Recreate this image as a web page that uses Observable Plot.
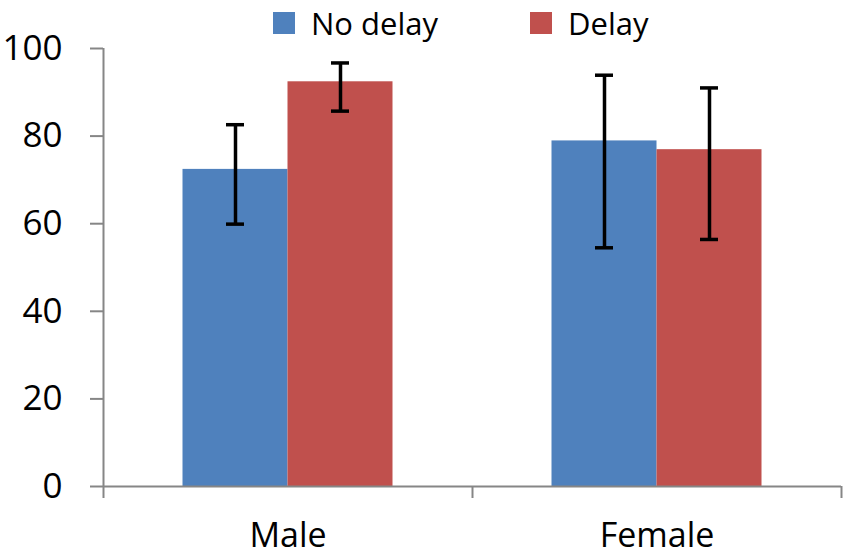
<!DOCTYPE html>
<html>
<head>
<meta charset="utf-8">
<script src="https://cdn.jsdelivr.net/npm/d3@7"></script>
<script src="https://cdn.jsdelivr.net/npm/@observablehq/plot@0.6"></script>
<style>
  html, body { margin: 0; padding: 0; background: #fff; }
  #wrap { position: relative; width: 850px; height: 557px; font-family: "Open Sans", sans-serif; }
  #legend { position: absolute; left: 273px; top: 0; height: 46px; display: flex; align-items: center; font-size: 31px; color: #000; z-index: 2; }
  .item { display: flex; align-items: center; }
  .sw { width: 22px; height: 22px; margin-right: 16px; }
</style>
</head>
<body>
<div id="wrap">
  <div id="legend"></div>
  <div id="chart"></div>
</div>
<script>
const categories = ["Male", "Female"];
const seriesNames = ["No delay", "Delay"];
const seriesColors = ["#4F81BD", "#C0504D"];
const noDelayValues = [72.4, 78.9];
const noDelayLow = [59.9, 54.5];
const noDelayHigh = [82.6, 93.9];
const delayValues = [92.4, 76.9];
const delayLow = [85.7, 56.4];
const delayHigh = [96.7, 91.0];
const yTicks = [0, 20, 40, 60, 80, 100];

const rows = [];
categories.forEach((c, ci) => {
  rows.push({category: c, ci, series: seriesNames[0], si: 0, value: noDelayValues[ci], lo: noDelayLow[ci], hi: noDelayHigh[ci]});
  rows.push({category: c, ci, series: seriesNames[1], si: 1, value: delayValues[ci], lo: delayLow[ci], hi: delayHigh[ci]});
});

const w = 105 / 369;   // bar width as fraction of category band
const cap = 9 / 369;   // half cap width
const xc = d => d.ci + 0.5 + (d.si - 0.5) * w;
const axisGray = "#868686";

const chart = Plot.plot({
  width: 850,
  height: 557,
  marginTop: 48,
  marginBottom: 71,
  marginLeft: 103,
  marginRight: 9,
  style: {fontFamily: "Open Sans, sans-serif", background: "#fff", color: "#000", overflow: "visible"},
  x: {type: "linear", domain: [0, categories.length], axis: null},
  y: {domain: [0, 100], axis: null},
  color: {domain: seriesNames, range: seriesColors},
  marks: [
    Plot.rectY(rows, {
      x1: d => d.ci + 0.5 + (d.si - 1) * w,
      x2: d => d.ci + 0.5 + d.si * w,
      y1: 0,
      y2: "value",
      fill: "series"
    }),
    Plot.ruleX(rows, {x: xc, y1: "lo", y2: "hi", stroke: "#000", strokeWidth: 3.5}),
    Plot.ruleY(rows, {y: "lo", x1: d => xc(d) - cap, x2: d => xc(d) + cap, stroke: "#000", strokeWidth: 3.5}),
    Plot.ruleY(rows, {y: "hi", x1: d => xc(d) - cap, x2: d => xc(d) + cap, stroke: "#000", strokeWidth: 3.5}),
    Plot.ruleX([0], {stroke: axisGray, strokeWidth: 2}),
    Plot.ruleY([0], {stroke: axisGray, strokeWidth: 2}),
    Plot.axisY(yTicks, {anchor: "left", tickSize: 13, tickPadding: 28, stroke: axisGray, strokeWidth: 2, fontSize: 35, fill: "#000"}),
    Plot.axisX(d3.range(categories.length + 1), {anchor: "bottom", tickSize: 12, stroke: axisGray, strokeWidth: 2, tickFormat: () => ""}),
    Plot.axisX(categories.map((c, i) => i + 0.5), {anchor: "bottom", tickSize: 0, tickPadding: 36, fontSize: 34, fill: "#000", tickFormat: d => categories[Math.floor(d)]})
  ]
});
document.getElementById("chart").appendChild(chart);

const legend = document.getElementById("legend");
seriesNames.forEach((s, i) => {
  const item = document.createElement("div");
  item.className = "item";
  if (i > 0) item.style.marginLeft = "92px";
  const sw = document.createElement("div");
  sw.className = "sw";
  sw.style.background = seriesColors[i];
  const t = document.createElement("span");
  t.textContent = s;
  item.appendChild(sw);
  item.appendChild(t);
  legend.appendChild(item);
});
</script>
</body>
</html>
